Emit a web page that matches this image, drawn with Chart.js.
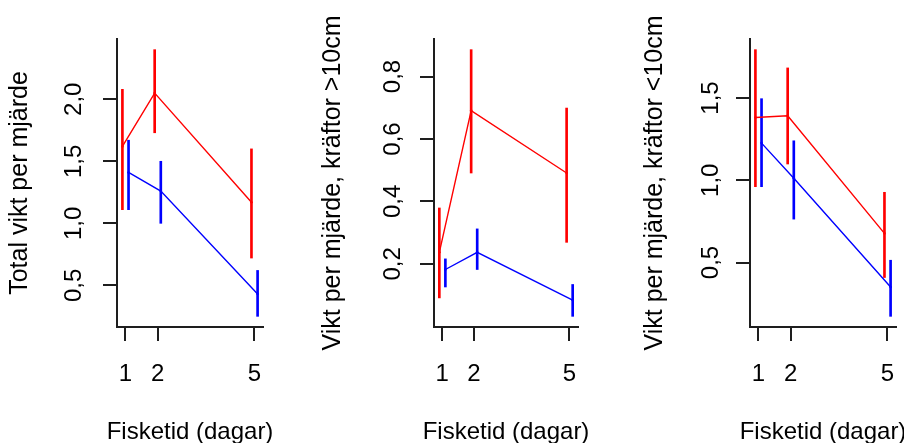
<!DOCTYPE html>
<html lang="sv">
<head>
<meta charset="UTF-8">
<title>Vikt per mjärde</title>
<script src="https://cdn.jsdelivr.net/npm/chart.js@4.4.0/dist/chart.umd.min.js"></script>
<style>
    html, body {
        margin: 0;
        padding: 0;
        background: #fff;
        width: 904px;
        height: 443px;
        overflow: hidden;
    }
    body { position: relative; }
    canvas { position: absolute; top: 0; }
</style>
</head>
<body>
<canvas id="c1" width="380" height="460" style="left:0px"></canvas>
<canvas id="c2" width="412" height="460" style="left:300px"></canvas>
<canvas id="c3" width="438" height="460" style="left:604px"></canvas>

<script>
// fisketid och förskjutning av punkterna
const dagar = [1, 2, 5];
const forskjutRod = -0.09;
const forskjutBla = 0.1;

// Total vikt per mjärde
const totRodMedel = [1.62, 2.05, 1.17];
const totRodLag   = [1.11, 1.73, 0.72];
const totRodHog   = [2.08, 2.40, 1.60];
const totBlaMedel = [1.41, 1.26, 0.43];
const totBlaLag   = [1.11, 1.00, 0.25];
const totBlaHog   = [1.67, 1.50, 0.62];
const totTicks    = [0.5, 1.0, 1.5, 2.0];

// kräftor >10cm
const storRodMedel = [0.237, 0.691, 0.491];
const storRodLag   = [0.091, 0.491, 0.269];
const storRodHog   = [0.379, 0.886, 0.699];
const storBlaMedel = [0.182, 0.237, 0.084];
const storBlaLag   = [0.126, 0.182, 0.032];
const storBlaHog   = [0.216, 0.312, 0.134];
const storTicks    = [0.2, 0.4, 0.6, 0.8];

// kräftor <10cm
const liteRodMedel = [1.382, 1.392, 0.677];
const liteRodLag   = [0.961, 1.099, 0.409];
const liteRodHog   = [1.794, 1.683, 0.927];
const liteBlaMedel = [1.226, 1.012, 0.351];
const liteBlaLag   = [0.961, 0.764, 0.173];
const liteBlaHog   = [1.496, 1.240, 0.514];
const liteTicks    = [0.5, 1.0, 1.5];

const FONT = 'Liberation Sans, Arial, sans-serif';
const AXEL = '#1e1e1e';

function utvidga(lo, hi) {
    const r = hi - lo;
    return [lo - 0.04 * r, hi + 0.04 * r];
}

function felstapel(lag, hog, forskjut, farg) {
    return {
        type: 'bar',
        data: dagar.map((d, i) => ({ x: d + forskjut, y: [lag[i], hog[i]] })),
        backgroundColor: farg,
        borderWidth: 0,
        barThickness: 2,
        grouped: false
    };
}

function linje(medel, forskjut, farg) {
    return {
        type: 'line',
        data: dagar.map((d, i) => ({ x: d + forskjut, y: medel[i] })),
        borderColor: farg,
        backgroundColor: farg,
        borderWidth: 1.4,
        pointRadius: 1.3,
        pointBorderWidth: 0,
        tension: 0,
        fill: false
    };
}

function rita(id, p) {
    const yGrans = utvidga(Math.min(...p.rodLag, ...p.blaLag), Math.max(...p.rodHog, ...p.blaHog));
    const xGrans = utvidga(dagar[0] + forskjutRod, dagar[dagar.length - 1] + forskjutBla);

    new Chart(document.getElementById(id), {
        type: 'line',
        data: {
            datasets: [
                linje(p.rodMedel, forskjutRod, '#ff0000'),
                linje(p.blaMedel, forskjutBla, '#0000ff'),
                felstapel(p.rodLag, p.rodHog, forskjutRod, '#ff0000'),
                felstapel(p.blaLag, p.blaHog, forskjutBla, '#0000ff')
            ]
        },
        options: {
            responsive: false,
            animation: false,
            events: [],
            layout: { padding: { top: 39, left: 0, right: 0, bottom: 0 }, autoPadding: false },
            plugins: {
                legend: { display: false },
                tooltip: { enabled: false },
                title: {
                    display: true,
                    text: 'Fisketid (dagar)',
                    position: 'bottom',
                    color: '#000',
                    font: { family: FONT, size: 24, weight: 'normal', lineHeight: 1.25 },
                    padding: { top: 0, bottom: 13 }
                }
            },
            scales: {
                x: {
                    type: 'linear',
                    min: xGrans[0],
                    max: xGrans[1],
                    offset: false,
                    grid: { offset: false, drawOnChartArea: false, color: AXEL, lineWidth: 2, tickLength: 14 },
                    border: { display: true, color: AXEL, width: 2 },
                    ticks: {
                        color: '#000',
                        font: { family: FONT, size: 24 },
                        padding: 18.6,
                        autoSkip: false,
                        maxRotation: 0,
                        callback: v => String(v)
                    },
                    afterBuildTicks: s => { s.ticks = dagar.map(v => ({ value: v })); },
                    afterFit: s => { s.height = 90; }
                },
                y: {
                    type: 'linear',
                    position: 'left',
                    min: yGrans[0],
                    max: yGrans[1],
                    grid: { drawOnChartArea: false, color: AXEL, lineWidth: 2, tickLength: 14 },
                    border: { display: true, color: AXEL, width: 2 },
                    ticks: {
                        color: '#000',
                        font: { family: FONT, size: 24 },
                        minRotation: 90,
                        maxRotation: 90,
                        crossAlign: 'center',
                        padding: p.tickPad,
                        autoSkip: false,
                        callback: v => v.toFixed(1).replace('.', ',')
                    },
                    afterBuildTicks: s => { s.ticks = p.yTicks.map(v => ({ value: v })); },
                    title: {
                        display: true,
                        text: p.titel,
                        color: '#000',
                        font: { family: FONT, size: 25, lineHeight: 1.2 },
                        padding: { top: p.titelPad }
                    },
                    afterFit: s => { s.width = p.vanster; }
                },
                hoger: {
                    type: 'linear',
                    position: 'right',
                    display: true,
                    grid: { display: false, drawTicks: false },
                    border: { display: false },
                    ticks: { display: false },
                    afterFit: s => { s.width = p.hoger; }
                }
            }
        }
    });
}

rita('c1', {
    rodMedel: totRodMedel, rodLag: totRodLag, rodHog: totRodHog,
    blaMedel: totBlaMedel, blaLag: totBlaLag, blaHog: totBlaHog,
    yTicks: totTicks, titel: 'Total vikt per mjärde',
    vanster: 117, hoger: 117, tickPad: 11.8, titelPad: 5
});

rita('c2', {
    rodMedel: storRodMedel, rodLag: storRodLag, rodHog: storRodHog,
    blaMedel: storBlaMedel, blaLag: storBlaLag, blaHog: storBlaHog,
    yTicks: storTicks, titel: 'Vikt per mjärde, kräftor >10cm',
    vanster: 134, hoger: 134, tickPad: 9.8, titelPad: 18.6
});

rita('c3', {
    rodMedel: liteRodMedel, rodLag: liteRodLag, rodHog: liteRodHog,
    blaMedel: liteBlaMedel, blaLag: liteBlaLag, blaHog: liteBlaHog,
    yTicks: liteTicks, titel: 'Vikt per mjärde, kräftor <10cm',
    vanster: 146, hoger: 146, tickPad: 8.3, titelPad: 36.6
});
</script>
</body>
</html>
